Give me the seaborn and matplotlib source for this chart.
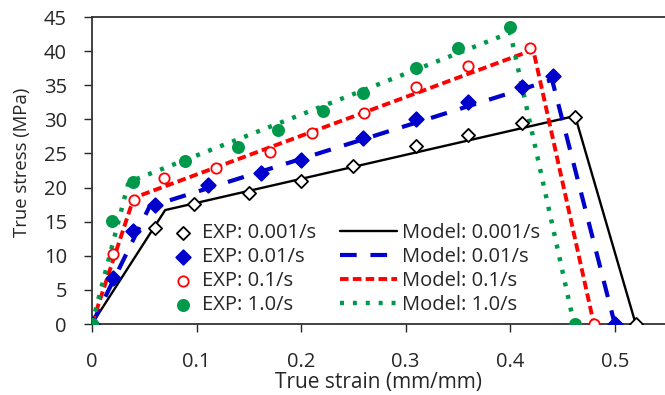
import matplotlib
matplotlib.use("Agg")
import matplotlib.pyplot as plt
import seaborn as sns

sns.set_theme(style="white")
plt.rcParams['font.family'] = ['Open Sans', 'DejaVu Sans']

# EXP data
exp_001_x = [0, 0.06, 0.098, 0.15, 0.20, 0.25, 0.31, 0.36, 0.411, 0.462, 0.52]
exp_001_y = [0, 14.1, 17.6, 19.25, 20.9, 23.2, 26.1, 27.7, 29.4, 30.4, 0]
exp_01_x = [0, 0.02, 0.0395, 0.06, 0.111, 0.162, 0.20, 0.259, 0.31, 0.36, 0.411, 0.441, 0.50]
exp_01_y = [0, 6.7, 13.6, 17.4, 20.4, 22.1, 24.1, 27.2, 30.1, 32.6, 34.8, 36.4, 0]
exp_1_x = [0, 0.02, 0.04, 0.069, 0.119, 0.17, 0.21, 0.26, 0.31, 0.36, 0.419, 0.48]
exp_1_y = [0, 10.3, 18.2, 21.4, 22.8, 25.2, 28.0, 30.9, 34.8, 37.8, 40.5, 0]
exp_10_x = [0, 0.019, 0.039, 0.089, 0.14, 0.178, 0.221, 0.259, 0.31, 0.35, 0.40, 0.462]
exp_10_y = [0, 15.1, 20.8, 23.9, 26.0, 28.4, 31.2, 33.9, 37.5, 40.4, 43.6, 0]

# Model data
mod_001_x = [0, 0.07, 0.462, 0.52]
mod_001_y = [0, 16.7, 30.5, 0]
mod_01_x = [0, 0.055, 0.44, 0.50]
mod_01_y = [0, 17.2, 35.8, 0]
mod_1_x = [0, 0.04, 0.422, 0.48]
mod_1_y = [0, 18.5, 40.2, 0]
mod_10_x = [0, 0.035, 0.40, 0.461]
mod_10_y = [0, 20.8, 42.7, 0]

TXT = '#262626'
FS = 14.5

fig = plt.figure(figsize=(6.65, 3.95), dpi=100)
ax = fig.add_axes([0.1383, 0.1797, 0.8617, 0.7772])

def line(x, y, color, ls, w, label):
    sns.lineplot(x=x, y=y, ax=ax, color=color, linestyle=ls, linewidth=w,
                 sort=False, estimator=None, label=label, zorder=2)

line(mod_001_x, mod_001_y, 'black', '-', 1.7, 'Model: 0.001/s')
line(mod_01_x, mod_01_y, '#0000CC', (0, (4, 3.3)), 3.0, 'Model: 0.01/s')
line(mod_1_x, mod_1_y, '#FF0000', (0, (2.2, 1.1)), 2.8, 'Model: 0.1/s')
line(mod_10_x, mod_10_y, '#00994C', (0, (0.9, 2.0)), 3.2, 'Model: 1.0/s')

def pts(x, y, marker, fc, ec, s, label, lw_=1.3):
    sns.scatterplot(x=x, y=y, ax=ax, marker=marker, s=s, facecolor=fc,
                    edgecolor=ec, linewidth=lw_, label=label, zorder=3)

pts(exp_001_x, exp_001_y, 'D', 'white', 'black', 45, 'EXP: 0.001/s')
pts(exp_01_x, exp_01_y, 'D', '#0000CC', '#0000CC', 55, 'EXP: 0.01/s')
pts(exp_1_x, exp_1_y, 'o', 'white', '#FF0000', 55, 'EXP: 0.1/s')
pts(exp_10_x, exp_10_y, 'o', '#00994C', '#00994C', 65, 'EXP: 1.0/s')

ax.set_xlim(0, 0.548)
ax.set_ylim(0, 45)
ax.set_xticks([0, 0.1, 0.2, 0.3, 0.4, 0.5])
ax.set_xticklabels(['0', '0.1', '0.2', '0.3', '0.4', '0.5'])
ax.set_yticks(range(0, 46, 5))
ax.tick_params(axis='both', labelsize=FS, colors=TXT, direction='out',
               length=6, width=1, bottom=True, left=True)
ax.tick_params(axis='x', pad=14)
ax.tick_params(axis='y', pad=12)
for s in ['left', 'top', 'bottom']:
    ax.spines[s].set_color('#333333')
    ax.spines[s].set_linewidth(1.3)
ax.spines['right'].set_visible(False)
ax.set_xlabel('True strain (mm/mm)', fontsize=FS + 0.5, color=TXT, labelpad=0)
ax.set_ylabel('True stress (MPa)', fontsize=13.3, color=TXT)
ax.yaxis.set_label_coords(-0.106, 0.528)

handles, labels = ax.get_legend_handles_labels()
hmap = dict(zip(labels, handles))
exp_labels = ['EXP: 0.001/s', 'EXP: 0.01/s', 'EXP: 0.1/s', 'EXP: 1.0/s']
mod_labels = ['Model: 0.001/s', 'Model: 0.01/s', 'Model: 0.1/s', 'Model: 1.0/s']

top = 1 - 223 / 395
leg1 = ax.legend([hmap[l] for l in exp_labels], exp_labels, loc='upper left',
                 bbox_to_anchor=(169.5 / 665, top), bbox_transform=fig.transFigure,
                 frameon=False, fontsize=FS, handlelength=1.35, handletextpad=0.27,
                 labelspacing=0.2, borderpad=0, borderaxespad=0)
ax.add_artist(leg1)
ax.legend([hmap[l] for l in mod_labels], mod_labels, loc='upper left',
          bbox_to_anchor=(340 / 665, top), bbox_transform=fig.transFigure,
          frameon=False, fontsize=FS, handlelength=2.83, handletextpad=0.25,
          labelspacing=0.2, borderpad=0, borderaxespad=0)

fig.savefig('out.png', dpi=100)
